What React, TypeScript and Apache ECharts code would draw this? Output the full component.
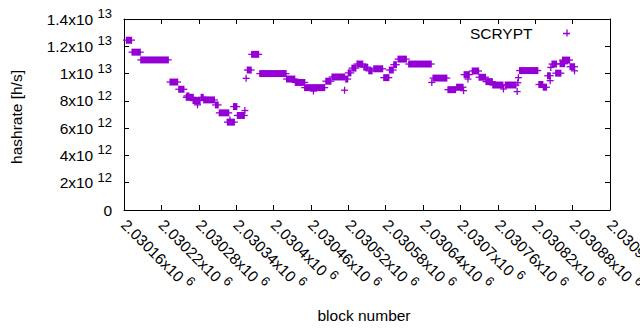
import React, { useEffect, useRef } from 'react';
import * as echarts from 'echarts';

// Runs of consecutive blocks sharing one hashrate value (start block, end block, h/s)
const blockStart = [
  2030164, 2030173, 2030187, 2030234, 2030248, 2030260, 2030261, 2030271, 2030278, 2030284,
  2030288, 2030307, 2030313, 2030326, 2030330, 2030336, 2030342, 2030354, 2030356, 2030358,
  2030365, 2030378, 2030421, 2030435, 2030450, 2030464, 2030484, 2030494, 2030514, 2030516,
  2030520, 2030526, 2030534, 2030545, 2030553, 2030561, 2030577, 2030586, 2030593, 2030600,
  2030617, 2030654, 2030656, 2030680, 2030694, 2030705, 2030706, 2030712, 2030719, 2030730,
  2030741, 2030752, 2030769, 2030772, 2030791, 2030792, 2030793, 2030795, 2030826, 2030833,
  2030840, 2030844, 2030845, 2030847, 2030853, 2030860, 2030864, 2030876, 2030883,
];
const blockEnd = [
  2030172, 2030186, 2030231, 2030246, 2030256, 2030271, 2030264, 2030282, 2030278, 2030287,
  2030305, 2030311, 2030328, 2030337, 2030330, 2030341, 2030353, 2030354, 2030356, 2030364,
  2030376, 2030420, 2030434, 2030450, 2030482, 2030464, 2030492, 2030514, 2030514, 2030519,
  2030524, 2030532, 2030543, 2030551, 2030558, 2030575, 2030585, 2030592, 2030597, 2030613,
  2030653, 2030654, 2030678, 2030692, 2030704, 2030705, 2030714, 2030712, 2030729, 2030740,
  2030751, 2030768, 2030769, 2030789, 2030791, 2030792, 2030793, 2030824, 2030832, 2030838,
  2030844, 2030844, 2030845, 2030854, 2030861, 2030867, 2030875, 2030883, 2030883,
];
const hashrate = [
  12.45e12, 11.57e12, 11.0e12, 9.38e12, 8.85e12, 8.26e12, 8.36e12, 8.02e12, 7.71e12, 8.26e12,
  8.07e12, 7.7e12, 7.12e12, 6.44e12, 6.6e12, 7.58e12, 6.93e12, 7.29e12, 9.65e12, 10.26e12,
  11.41e12, 10.0e12, 9.6e12, 9.35e12, 8.97e12, 8.72e12, 9.44e12, 9.75e12, 8.78e12, 9.6e12,
  10.05e12, 10.4e12, 10.7e12, 10.47e12, 10.2e12, 10.35e12, 9.7e12, 10.26e12, 10.65e12, 11.06e12,
  10.7e12, 9.35e12, 9.67e12, 8.82e12, 9.0e12, 8.75e12, 9.92e12, 9.6e12, 10.19e12, 9.73e12,
  9.41e12, 9.16e12, 8.87e12, 9.16e12, 8.68e12, 9.33e12, 9.7e12, 10.22e12, 9.2e12, 9.0e12,
  9.84e12, 9.48e12, 10.45e12, 10.7e12, 10.03e12, 10.72e12, 10.99e12, 10.5e12, 10.2e12,
];

const seriesName = 'SCRYPT';
const xTitle = 'block number';
const yTitle = 'hashrate [h/s]';
const xMin = 2030160;
const xMax = 2030940;
const xStep = 60;
const yMin = 0;
const yMax = 1.4e13;
const yStep = 2e12;

const COLOR = '#9400d3';
const FONT = "'Liberation Sans', Arial, sans-serif";
const FS = 15.5;
const PLUS = 'path://M0,3.35H7V4.65H0Z M3.35,0H4.65V7H3.35Z';

function sci(v: number): string {
  if (v === 0) return '{a|0}';
  const e = Math.floor(Math.log10(Math.abs(v)) + 1e-9);
  const m = Number((v / Math.pow(10, e)).toFixed(6));
  return `{a|${m}x10 }{s|${e}}`;
}

const rich = {
  a: { fontSize: FS, lineHeight: 24, fontFamily: FONT, color: '#000' },
  s: { fontSize: 13, lineHeight: 15, fontFamily: FONT, color: '#000', verticalAlign: 'top' },
};

export default function App() {
  const ref = useRef<HTMLDivElement>(null);
  useEffect(() => {
    if (!ref.current) return;
    const chart = echarts.init(ref.current, null, { renderer: 'svg' });
    const axisLine = { show: true, onZero: false, lineStyle: { color: '#000', width: 1 } };
    const axisTick = { show: true, inside: true, length: 5, lineStyle: { color: '#000', width: 1 } };
    const data = blockStart.map((s, i) => [s, blockEnd[i], hashrate[i]]);
    chart.setOption({
      animation: false,
      backgroundColor: '#fff',
      textStyle: { fontFamily: FONT },
      grid: { left: 124, top: 19, width: 486, height: 191, containLabel: false, outerBoundsMode: 'none' },
      legend: {
        data: [{ name: seriesName, icon: PLUS }],
        right: 70,
        top: 25,
        align: 'right',
        itemWidth: 58,
        itemHeight: 7,
        padding: 0,
        selectedMode: false,
        textStyle: { fontSize: FS, color: '#000', fontFamily: FONT },
      },
      xAxis: [
        {
          type: 'value', min: xMin, max: xMax, interval: xStep, position: 'bottom',
          axisLine, axisTick, splitLine: { show: false },
          axisLabel: {
            rotate: -45, margin: 12, formatter: sci, rich, color: '#000',
            showMinLabel: true, showMaxLabel: true, hideOverlap: false,
          },
        },
        {
          type: 'value', min: xMin, max: xMax, interval: xStep, position: 'top',
          axisLine, axisTick, splitLine: { show: false }, axisLabel: { show: false },
        },
      ],
      yAxis: [
        {
          type: 'value', min: yMin, max: yMax, interval: yStep, position: 'left',
          axisLine, axisTick, splitLine: { show: false },
          axisLabel: { margin: 12, formatter: sci, rich, color: '#000', showMinLabel: true, showMaxLabel: true },
        },
        {
          type: 'value', min: yMin, max: yMax, interval: yStep, position: 'right',
          axisLine, axisTick, splitLine: { show: false }, axisLabel: { show: false },
        },
      ],
      series: [
        {
          type: 'custom',
          name: seriesName,
          xAxisIndex: 0,
          yAxisIndex: 0,
          silent: true,
          itemStyle: { color: COLOR },
          encode: { x: [0, 1], y: 2 },
          data,
          renderItem: (params: any, api: any) => {
            const s = api.value(0);
            const e = api.value(1);
            const v = api.value(2);
            const p0 = api.coord([s, v]);
            const p1 = api.coord([e, v]);
            const color = api.visual('color');
            const h = 3.5;
            const t = 0.65;
            return {
              type: 'group',
              children: [
                { type: 'rect', shape: { x: p0[0] - t, y: p0[1] - h, width: p1[0] - p0[0] + 2 * t, height: 2 * h }, style: { fill: color } },
                { type: 'rect', shape: { x: p0[0] - h, y: p0[1] - t, width: p1[0] - p0[0] + 2 * h, height: 2 * t }, style: { fill: color } },
              ],
            };
          },
        },
      ],
      graphic: [
        {
          type: 'text', x: 16.5, y: 117, rotation: Math.PI / 2,
          style: { text: yTitle, fontSize: FS, fontFamily: FONT, fill: '#000', align: 'center', verticalAlign: 'middle' },
        },
        {
          type: 'text', x: 364, y: 315,
          style: { text: xTitle, fontSize: FS, fontFamily: FONT, fill: '#000', align: 'center', verticalAlign: 'middle' },
        },
      ],
    });
    return () => chart.dispose();
  }, []);
  return <div ref={ref} style={{ position: 'absolute', left: 0, top: 0, width: 640, height: 330 }} />;
}
